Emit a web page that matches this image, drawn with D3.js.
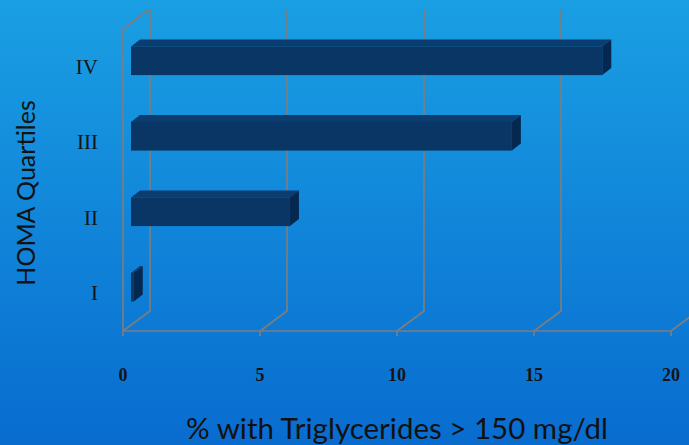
<!DOCTYPE html>
<html>
<head>
<meta charset="utf-8">
<script src="https://cdn.jsdelivr.net/npm/d3@7"></script>
<style>
  html, body { margin: 0; padding: 0; overflow: hidden; }
  svg { display: block; }
</style>
</head>
<body>
<svg id="chart" width="689" height="445"></svg>
<script>
// HOMA quartiles vs share of patients with triglycerides > 150 mg/dl
const quartiles = ["I", "II", "III", "IV"];
const percentTG = [0.1, 5.8, 13.9, 17.2];
const xTicks = [0, 5, 10, 15, 20];

const W = 689, H = 445;
const svg = d3.select("#chart");

// background gradient
const defs = svg.append("defs");
const bg = defs.append("linearGradient").attr("id", "bg").attr("x1", 0).attr("y1", 0).attr("x2", 0).attr("y2", 1);
bg.append("stop").attr("offset", "0%").attr("stop-color", "#1a9fe3");
bg.append("stop").attr("offset", "100%").attr("stop-color", "#086ccf");
svg.append("rect").attr("width", W).attr("height", H).attr("fill", "url(#bg)");

// front plane scales
const x = d3.scaleLinear().domain([0, 20]).range([123, 671]);
const y = d3.scaleBand().domain(quartiles).range([331, 29]).paddingInner(0.62).paddingOuter(0.31);

// depth of the 3-D box and of each bar
const depth = { dx: 27, dy: -20 };
const barOff = { dx: 8, dy: -6 };
const barDepth = { dx: 9, dy: -7 };

const gridColor = "#7d7d7d";
const grid = svg.append("g").attr("stroke", gridColor).attr("stroke-width", 1.7).attr("fill", "none");

const yTop = y.range()[1], yBot = y.range()[0];

// side wall (left)
grid.append("path").attr("d", d3.line()([
  [x(0), yBot], [x(0), yTop], [x(0) + depth.dx, yTop + depth.dy]
]));

// back wall gridlines + floor diagonals
xTicks.forEach(t => {
  grid.append("path").attr("d", d3.line()([
    [x(t) + depth.dx, yTop + depth.dy],
    [x(t) + depth.dx, yBot + depth.dy],
    [x(t), yBot]
  ]));
  // tick marks below the floor
  grid.append("line")
    .attr("x1", x(t)).attr("x2", x(t))
    .attr("y1", yBot).attr("y2", yBot + 5);
});

// front floor edge
grid.append("line").attr("x1", x(0)).attr("x2", x(20)).attr("y1", yBot).attr("y2", yBot);

// bars drawn as 3-D boxes
const bars = svg.append("g");
quartiles.forEach((q, i) => {
  const v = percentTG[i];
  const x0 = x(0) + barOff.dx, x1 = x(v) + barOff.dx;
  const y0 = y(q) + barOff.dy, y1 = y(q) + y.bandwidth() + barOff.dy;
  const g = bars.append("g");
  // top face
  g.append("path").attr("fill", "#0b3d70").attr("d", d3.line()([
    [x0, y0], [x0 + barDepth.dx, y0 + barDepth.dy], [x1 + barDepth.dx, y0 + barDepth.dy], [x1, y0]
  ]) + "Z");
  // front face
  g.append("rect").attr("x", x0).attr("y", y0).attr("width", x1 - x0).attr("height", y1 - y0)
    .attr("fill", "#093664");
  // right side face
  g.append("path").attr("fill", "#052850").attr("d", d3.line()([
    [x1, y0], [x1 + barDepth.dx, y0 + barDepth.dy], [x1 + barDepth.dx, y1 + barDepth.dy], [x1, y1]
  ]) + "Z");
});

// x tick labels
svg.append("g").selectAll("text").data(xTicks).join("text")
  .attr("x", d => x(d)).attr("y", 381)
  .attr("text-anchor", "middle")
  .attr("font-family", "'Liberation Serif', 'DejaVu Serif', serif")
  .attr("font-size", 18).attr("font-weight", "bold")
  .attr("fill", "#141414")
  .text(d => d);

// y tick labels
svg.append("g").selectAll("text").data(quartiles).join("text")
  .attr("x", 98).attr("y", d => y(d) + y.bandwidth() / 2 + 7)
  .attr("text-anchor", "end")
  .attr("font-family", "'Liberation Serif', 'DejaVu Serif', serif")
  .attr("font-size", 21)
  .attr("fill", "#141414")
  .text(d => d);

// axis titles
svg.append("text")
  .attr("x", 397).attr("y", 439)
  .attr("text-anchor", "middle")
  .attr("font-family", "Lato, 'Open Sans', sans-serif")
  .attr("font-size", 29.5)
  .attr("fill", "#111")
  .text("% with Triglycerides > 150 mg/dl");

svg.append("text")
  .attr("transform", "translate(35,193) rotate(-90)")
  .attr("text-anchor", "middle")
  .attr("font-family", "Lato, 'Open Sans', sans-serif")
  .attr("font-size", 25)
  .attr("fill", "#111")
  .text("HOMA Quartiles");
</script>
</body>
</html>
